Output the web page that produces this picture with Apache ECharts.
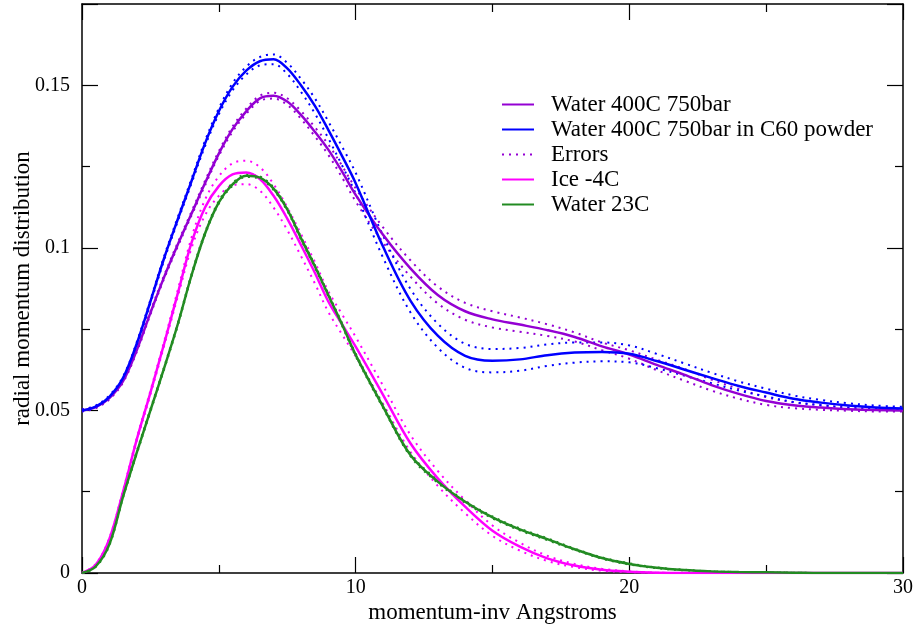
<!DOCTYPE html>
<html>
<head>
<meta charset="utf-8">
<script src="https://cdn.jsdelivr.net/npm/echarts@6/dist/echarts.min.js"></script>
<style>html,body{margin:0;padding:0;background:#fff}#c{width:914px;height:631px}</style>
</head>
<body>
<div id="c"></div>
<script>
const xs = [0,0.5,1,1.5,2,2.5,3,3.5,4,4.5,5,5.5,6,6.5,7,7.5,8,8.5,9,9.5,10,11,12,13,14,15,16,17,18,19,20,21,22,23,24,25,26,27,28,29,30];

const water400 = [0.0500,0.0510,0.0538,0.0590,0.0685,0.0800,0.0910,0.1010,0.1105,0.1200,0.1290,0.1365,0.1420,0.1460,0.1468,0.1450,0.1409,0.1358,0.1302,0.1235,0.1163,
  0.1040,0.0937,0.0855,0.0805,0.0780,0.0764,0.0747,0.0726,0.0697,0.0672,0.0640,0.0610,0.0578,0.0551,0.0529,0.0516,0.0509,0.0504,0.0501,0.0500];
const waterC60 = [0.0500,0.0512,0.0542,0.0600,0.0705,0.0835,0.0968,0.1088,0.1205,0.1322,0.1420,0.1495,0.1545,0.1574,0.1580,0.1552,0.1500,0.1438,0.1363,0.1283,0.1199,
  0.1004,0.0838,0.0730,0.0668,0.0653,0.0657,0.0670,0.0678,0.0680,0.0674,0.0652,0.0626,0.0600,0.0575,0.0555,0.0536,0.0524,0.0515,0.0509,0.0506];
const ice = [0,0.0025,0.0105,0.0250,0.0410,0.0555,0.0705,0.0860,0.1015,0.1125,0.1190,0.1226,0.1232,0.1212,0.1160,0.1090,0.1009,0.0925,0.0835,0.0765,0.0696,
  0.0548,0.0399,0.0291,0.0204,0.0130,0.0081,0.0045,0.0023,0.0010,0.0004,0.0001,0,0,0,0,0,0,0,0,0];
const water23 = [0,0.0020,0.0088,0.0235,0.0370,0.0500,0.0630,0.0765,0.0915,0.1045,0.1140,0.1195,0.1222,0.1216,0.1182,0.1118,0.1030,0.0945,0.0855,0.0765,0.0671,
  0.0512,0.0363,0.0281,0.0219,0.0171,0.0134,0.0104,0.0073,0.0046,0.0028,0.0016,0.0009,0.0005,0.0003,0.0002,0.0001,0,0,0,0];

const errW400 = [0.0003,0.0003,0.0004,0.0004,0.0005,0.0005,0.0005,0.0006,0.0006,0.0007,0.0007,0.0008,0.0008,0.0008,0.0009,0.0010,0.0012,0.0014,0.0016,0.0018,0.0020,
  0.0023,0.0025,0.0026,0.0026,0.0025,0.0022,0.0018,0.0014,0.0012,0.0013,0.0016,0.0018,0.0017,0.0015,0.0012,0.0009,0.0007,0.0005,0.0004,0.0003];
const errC60 = [0.0003,0.0003,0.0004,0.0004,0.0005,0.0005,0.0006,0.0006,0.0007,0.0008,0.0009,0.0011,0.0012,0.0013,0.0015,0.0017,0.0020,0.0023,0.0026,0.0029,0.0032,
  0.0034,0.0036,0.0037,0.0037,0.0036,0.0035,0.0033,0.0031,0.0029,0.0026,0.0022,0.0019,0.0016,0.0014,0.0012,0.0010,0.0008,0.0007,0.0006,0.0005];
const errIce = [0,0.0002,0.0003,0.0004,0.0005,0.0006,0.0007,0.0010,0.0016,0.0024,0.0030,0.0034,0.0036,0.0036,0.0036,0.0035,0.0034,0.0033,0.0032,0.0031,0.0030,
  0.0028,0.0026,0.0023,0.0020,0.0016,0.0012,0.0008,0.0005,0.0003,0.0001,0,0,0,0,0,0,0,0,0,0];
const errW23 = [0,0.0002,0.0003,0.0003,0.0004,0.0004,0.0004,0.0004,0.0004,0.0004,0.0004,0.0004,0.0004,0.0004,0.0004,0.0004,0.0004,0.0004,0.0004,0.0004,0.0004,
  0.0004,0.0004,0.0004,0.0003,0.0003,0.0003,0.0003,0.0002,0.0002,0.0002,0.0001,0.0001,0,0,0,0,0,0,0,0];

const xTicks = ['0','10','20','30'];
const yTicks = ['0','0.05','0.1','0.15'];

const C = {violet:'#9400d3', blue:'#0000ff', magenta:'#ff00ff', green:'#228b22'};
const FONT = '"Liberation Serif","Times New Roman",serif';

function pts(arr, err, sign) {
  return xs.map((x, i) => [x, err ? arr[i] + sign * err[i] : arr[i]]);
}
function mainLine(name, arr, color) {
  return {name, type:'line', data:pts(arr), symbol:'none', smooth:0.35,
    lineStyle:{color, width:2.5}, itemStyle:{color}, z:3};
}
function errLine(arr, err, sign, color) {
  return {name:'Errors', type:'line', data:pts(arr, err, sign), symbol:'none', smooth:0.35,
    lineStyle:{color, width:2, type:[2,5]}, itemStyle:{color}, z:2};
}
function tickFmt(labels, step) {
  return (v) => {
    const r = v / step, k = Math.round(r);
    return (Math.abs(r - k) < 1e-6 && labels[k] !== undefined) ? labels[k] : '';
  };
}

const axisCommon = {
  min:0, axisLine:{show:true, onZero:false, lineStyle:{color:'#000', width:1.5}},
  splitLine:{show:false},
  axisTick:{show:true, inside:true, length:16, lineStyle:{color:'#000', width:1.2}},
  minorTick:{show:true, splitNumber:2, length:8, lineStyle:{color:'#000', width:1.2}},
  minorSplitLine:{show:false}
};

const chart = echarts.init(document.getElementById('c'), null, {renderer:'canvas'});
chart.setOption({
  animation:false,
  backgroundColor:'#fff',
  grid:{left:82, right:11, top:4, bottom:58, containLabel:false, outerBoundsMode:'none'},
  legend:{
    orient:'vertical', left:496, top:88, itemWidth:32, itemHeight:2, itemGap:2,
    data:['Water 400C 750bar','Water 400C 750bar in C60 powder','Errors','Ice -4C','Water 23C'],
    itemStyle:{opacity:0},
    textStyle:{fontFamily:FONT, fontSize:23, color:'#000', padding:[0,0,0,12], lineHeight:23}
  },
  xAxis:[
    Object.assign({}, axisCommon, {type:'value', position:'bottom', max:30, interval:10,
      name:'momentum-inv Angstroms', nameLocation:'middle', nameGap:28, nameMoveOverlap:false,
      nameTextStyle:{fontFamily:FONT, fontSize:23, color:'#000'},
      axisLabel:{fontFamily:FONT, fontSize:20, color:'#000', margin:5, showMaxLabel:true,
        formatter:tickFmt(xTicks, 10)}}),
    Object.assign({}, axisCommon, {type:'value', position:'top', max:30, interval:10, axisLabel:{show:false}})
  ],
  yAxis:[
    Object.assign({}, axisCommon, {type:'value', position:'left', max:0.175, interval:0.05,
      name:'radial momentum distribution', nameLocation:'middle', nameGap:48, nameMoveOverlap:false,
      nameTextStyle:{fontFamily:FONT, fontSize:23, color:'#000'},
      axisLabel:{fontFamily:FONT, fontSize:20, color:'#000', margin:12, showMaxLabel:false,
        formatter:tickFmt(yTicks, 0.05)}}),
    Object.assign({}, axisCommon, {type:'value', position:'right', max:0.175, interval:0.05, axisLabel:{show:false}})
  ],
  series:[
    mainLine('Water 400C 750bar', water400, C.violet),
    mainLine('Water 400C 750bar in C60 powder', waterC60, C.blue),
    errLine(water400, errW400, 1, C.violet),
    errLine(water400, errW400, -1, C.violet),
    errLine(waterC60, errC60, 1, C.blue),
    errLine(waterC60, errC60, -1, C.blue),
    errLine(ice, errIce, 1, C.magenta),
    errLine(ice, errIce, -1, C.magenta),
    errLine(water23, errW23, 1, C.green),
    errLine(water23, errW23, -1, C.green),
    mainLine('Ice -4C', ice, C.magenta),
    mainLine('Water 23C', water23, C.green)
  ]
});
</script>
</body>
</html>
